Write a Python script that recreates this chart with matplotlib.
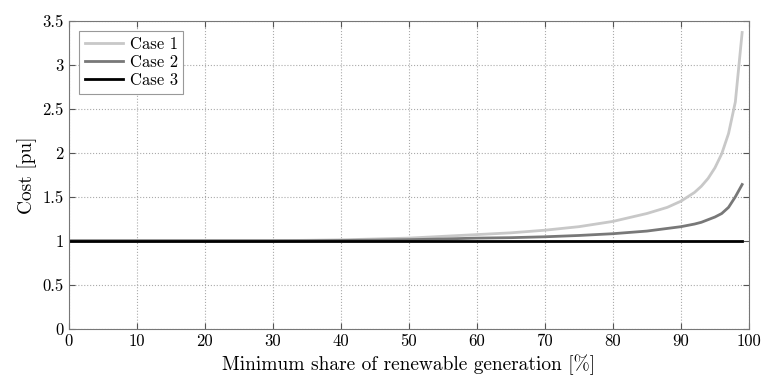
import matplotlib
matplotlib.use('Agg')
import matplotlib.pyplot as plt

plt.rcParams['font.family'] = ['cmr10', 'DejaVu Serif']
plt.rcParams['mathtext.fontset'] = 'cm'
plt.rcParams['axes.formatter.use_mathtext'] = True

# share of renewable generation [%]
share = [0, 10, 20, 30, 35, 40, 45, 50, 55, 60, 65, 70, 75, 80, 85, 88,
         90, 92, 93, 94, 95, 96, 97, 98, 99]
case1 = [1, 1, 1, 1.0, 1.005, 1.01, 1.02, 1.03, 1.05, 1.07, 1.09, 1.12, 1.16,
         1.22, 1.31, 1.38, 1.45, 1.55, 1.62, 1.71, 1.83, 1.99, 2.22, 2.58, 3.37]
case2 = [1, 1, 1, 1, 1, 1.003, 1.007, 1.012, 1.02, 1.03, 1.035, 1.045, 1.06,
         1.08, 1.11, 1.14, 1.16, 1.19, 1.21, 1.24, 1.27, 1.31, 1.38, 1.50, 1.64]
case3 = [1] * len(share)

xticks = list(range(0, 101, 10))
yticks = [0, 0.5, 1, 1.5, 2, 2.5, 3, 3.5]
ytick_labels = ['0', '0.5', '1', '1.5', '2', '2.5', '3', '3.5']

fig = plt.figure(figsize=(7.64, 3.83), dpi=100)
ax = fig.add_axes([0.0899, 0.142, 0.8904, 0.803])

ax.plot(share, case1, color='#c8c8c8', lw=2, label='Case 1')
ax.plot(share, case2, color='#787878', lw=2, label='Case 2')
ax.plot(share, case3, color='#000000', lw=2, label='Case 3')

ax.set_xlim(0, 100)
ax.set_ylim(0, 3.5)
ax.set_xticks(xticks)
ax.set_xticklabels([str(t) for t in xticks])
ax.set_yticks(yticks)
ax.set_yticklabels(ytick_labels)
ax.tick_params(direction='in', top=True, right=True, labelsize=12,
               color='#555555', length=4)
for s in ax.spines.values():
    s.set_color('#777777')
    s.set_linewidth(0.8)

ax.grid(True, linestyle=':', color='#aaaaaa', linewidth=0.8)

ax.set_xlabel('Minimum share of renewable generation [%]', fontsize=14)
ax.set_ylabel('Cost [pu]', fontsize=14)

leg = ax.legend(loc='upper left', fontsize=12, fancybox=False, framealpha=1,
                edgecolor='#999999', handlelength=2.3, handletextpad=0.4,
                borderpad=0.35, labelspacing=0.15, borderaxespad=0.6)
leg.get_frame().set_linewidth(0.8)

plt.savefig('out.png', dpi=100)
